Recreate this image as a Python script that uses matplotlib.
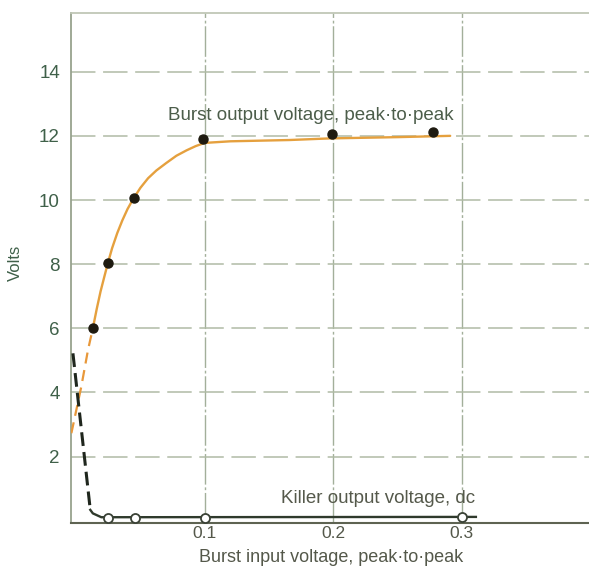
import matplotlib
matplotlib.use("Agg")
import matplotlib.pyplot as plt

# Burst output voltage, peak-to-peak (measured points)
burst_x = [0.013, 0.025, 0.045, 0.099, 0.199, 0.278]
burst_y = [6.0, 8.05, 10.05, 11.9, 12.06, 12.12]

# Smooth fitted burst curve (solid part) and its dashed extension toward zero
curve_x = [0.013, 0.016, 0.019, 0.022, 0.0248, 0.028, 0.032, 0.036, 0.040, 0.0442,
           0.050, 0.056, 0.0624, 0.070, 0.078, 0.086, 0.093, 0.100, 0.120, 0.166,
           0.197, 0.250, 0.291]
curve_y = [6.0, 6.6, 7.15, 7.62, 8.05, 8.5, 8.97, 9.37, 9.72, 10.02,
           10.38, 10.68, 10.92, 11.15, 11.38, 11.55, 11.68, 11.78, 11.83, 11.87,
           11.92, 11.96, 12.0]
curve_dash_x = [-0.0037, 0.004, 0.0092, 0.013]
curve_dash_y = [2.73, 4.18, 5.32, 6.0]

# Killer output voltage, dc (measured points and drawn line)
killer_x = [0.025, 0.046, 0.1, 0.3]
killer_y = [0.1, 0.1, 0.1, 0.12]
killer_line_x = [0.011, 0.013, 0.0196, 0.311]
killer_line_y = [0.34, 0.23, 0.11, 0.12]
killer_dash_x = [-0.0025, 0.011]
killer_dash_y = [5.22, 0.34]

x_ticks = [0.1, 0.2, 0.3]
x_ticklabels = ["0.1", "0.2", "0.3"]
y_ticks = [2, 4, 6, 8, 10, 12, 14]

plt.rcParams["font.family"] = ["Liberation Sans", "DejaVu Sans"]

fig = plt.figure(figsize=(5.89, 5.66), dpi=100)
ax = fig.add_axes([71 / 589, 1 - 523 / 566, 1 - 71 / 589, (523 - 13) / 566])
ax.set_xlim(-0.004, 0.399)
ax.set_ylim(-0.07, 15.83)

for xv in x_ticks:
    ax.axvline(xv, color="#a3af9a", lw=1.0, ls=(0, (22, 2, 2, 2)), zorder=1)
for yv in y_ticks:
    ax.axhline(yv, color="#b0bba5", lw=1.1, ls=(0, (16, 5)), zorder=1)

ax.spines["right"].set_visible(False)
ax.spines["top"].set_color("#c0c7b6")
ax.spines["top"].set_linewidth(1.3)
ax.spines["left"].set_color("#97a28e")
ax.spines["left"].set_linewidth(1.3)
ax.spines["bottom"].set_color("#5e6352")
ax.spines["bottom"].set_linewidth(1.5)

ax.set_xticks(x_ticks)
ax.set_xticklabels(x_ticklabels)
ax.set_yticks(y_ticks)
ax.tick_params(axis="both", length=0)
ax.tick_params(axis="x", pad=2.5, labelsize=12.5, labelcolor="#54584a")
ax.tick_params(axis="y", pad=8, labelsize=13.5, labelcolor="#3f6049")

# Burst curve
ax.plot(curve_dash_x, curve_dash_y, color="#e8983a", lw=1.6, ls=(0, (5, 3)), zorder=3)
ax.plot(curve_x, curve_y, color="#e5a03e", lw=1.7, zorder=3, solid_capstyle="round")
ax.plot(burst_x, burst_y, "o", color="#1e1a10", ms=6.5, zorder=5)

# Killer curve
ax.plot(killer_dash_x, killer_dash_y, color="#1f261d", lw=2.2, ls=(0, (4.5, 2)), zorder=4)
ax.plot(killer_line_x, killer_line_y, color="#2f3a2c", lw=1.7, zorder=4)
ax.plot(killer_x, killer_y, "o", mfc="white", mec="#3a4236", mew=1.3, ms=6.5, zorder=6)

ax.text(0.1825, 12.65, "Burst output voltage, peak\u00b7to\u00b7peak", fontsize=13.5,
        color="#4c5d4a", ha="center", va="center")
ax.text(0.235, 0.68, "Killer output voltage, dc", fontsize=13.5,
        color="#55594b", ha="center", va="center")

fig.text(15 / 589, 1 - 263 / 566, "Volts", rotation=90, fontsize=12,
         color="#3f6049", ha="center", va="center")
fig.text(331 / 589, 1 - 557 / 566, "Burst input voltage, peak\u00b7to\u00b7peak",
         fontsize=13, color="#54584a", ha="center", va="center")

fig.savefig("out.png", dpi=100, facecolor="white")
